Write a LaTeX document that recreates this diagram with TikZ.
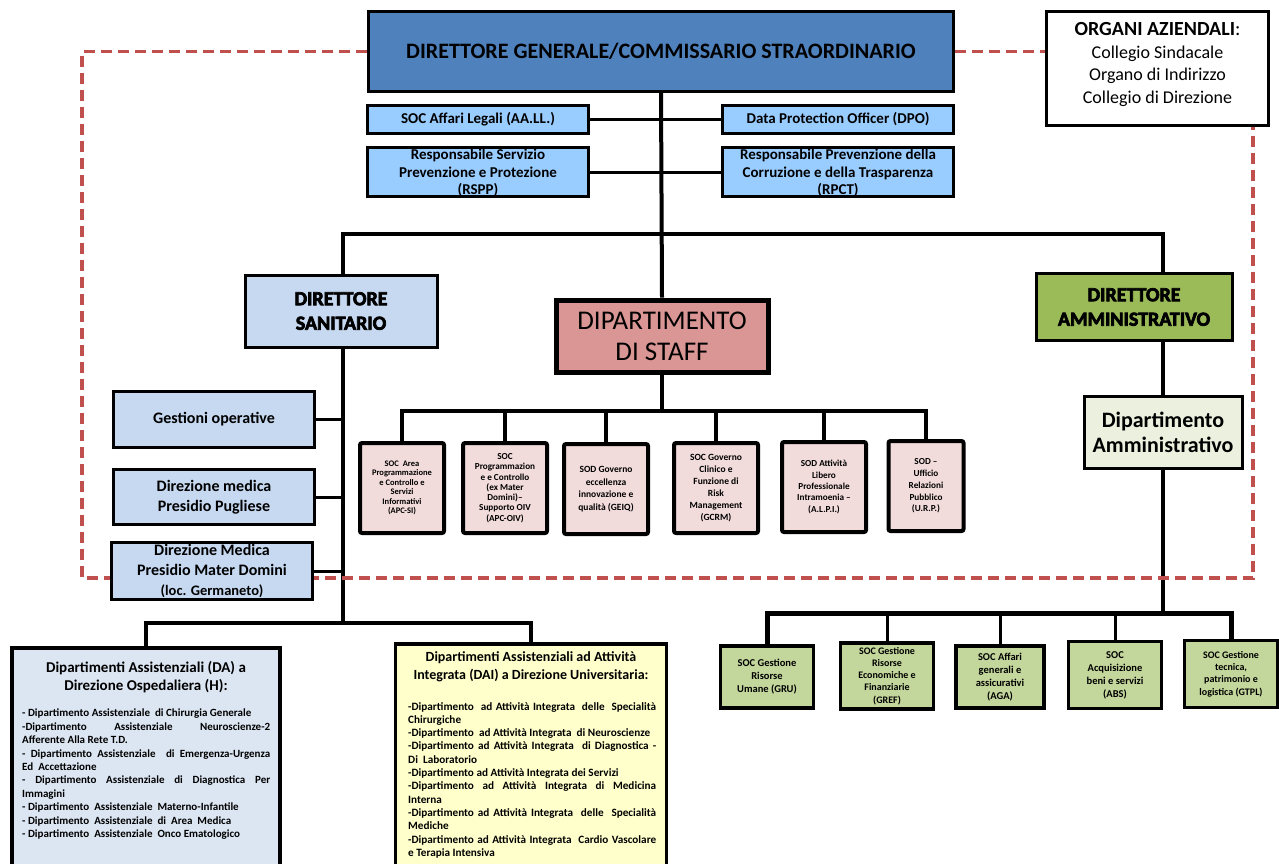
\documentclass[tikz,border=0pt]{standalone}
\usepackage{fontspec}
\setmainfont{Carlito}
\usetikzlibrary{positioning,backgrounds}

\definecolor{dgblue}{HTML}{4F81BD}
\definecolor{staffblue}{HTML}{99CCFF}
\definecolor{sanblue}{HTML}{C6D9F1}
\definecolor{dahblue}{HTML}{DCE6F2}
\definecolor{staffred}{HTML}{D99694}
\definecolor{staffpink}{HTML}{F2DCDB}
\definecolor{ammgreen}{HTML}{9BBB59}
\definecolor{ammlight}{HTML}{EBF1DE}
\definecolor{socgreen}{HTML}{C3D69B}
\definecolor{daiyellow}{HTML}{FFFFCC}
\definecolor{dashred}{HTML}{C0504D}

\newcommand{\fsz}[2]{\fontsize{#1}{#2}\selectfont}
% testo con contorno
\newcommand{\heavytxt}[1]{\special{pdf:literal direct 2 Tr 0.7 w}#1\special{pdf:literal direct 0 Tr}}

\begin{document}
\begin{tikzpicture}[x=1pt, y=-1pt,
        every node/.style={inner sep=0pt, align=center}
    ]
    \tikzstyle {frame_box} = [draw=black, line width=3pt]
    \tikzstyle {dg_box} = [frame_box, fill=dgblue, minimum width=585pt, minimum height=80pt, font=\bfseries\fsz{22}{26}]
    \tikzstyle {org_box} = [frame_box, fill=white, line width=2.5pt, minimum width=222pt, minimum height=114pt, text depth=11.5pt, font=\fsz{18}{22.5}]
    \tikzstyle {staff_box} = [frame_box, fill=staffblue, line width=2.5pt, font=\bfseries\fsz{15}{17.5}]
    \tikzstyle {dir_box} = [frame_box, font=\bfseries\fsz{20}{24.5}]
    \tikzstyle {san_box} = [frame_box, fill=sanblue, minimum width=201pt, font=\bfseries\fsz{16}{20}]
    \tikzstyle {sub_box} = [frame_box, line width=4pt, rounded corners=2pt, fill=staffpink, minimum width=84pt, minimum height=90pt, font=\bfseries\fsz{9.5}{12}]
    \tikzstyle {soc_box} = [frame_box, line width=3.5pt, fill=socgreen, minimum width=93pt, minimum height=62pt, font=\bfseries\fsz{10.5}{13}]
    \tikzstyle {big_box} = [frame_box, line width=3.5pt, anchor=north, minimum height=260pt]
    \tikzstyle {line_link} = [line width=4pt]
    \tikzstyle {red_dash} = [draw=dashred, line width=3.5pt, dash pattern=on 11pt off 6pt]

    \useasboundingbox (0,0) rectangle (1279,863);

    % vertice
    \node [dg_box] (dg) at (661,51.5) {DIRETTORE GENERALE/COMMISSARIO STRAORDINARIO};
    \node [org_box] (org) at (1157.5,68.5) {{\fsz{20}{22.5}\textbf{ORGANI AZIENDALI}:}\\Collegio Sindacale\\Organo di Indirizzo\\Collegio di Direzione};

    \node [staff_box, minimum width=221pt, minimum height=28pt] (legal) at (478,119.5) {SOC Affari Legali (AA.LL.)};
    \node [staff_box, minimum width=231pt, minimum height=28pt] (dpo) at (838,119.5) {Data Protection Officer (DPO)};
    \node [staff_box, minimum width=221pt, minimum height=49pt, text depth=0pt] (rspp) at (478,172) {Responsabile Servizio\\Prevenzione e Protezione\\(RSPP)};
    \node [staff_box, minimum width=231pt, minimum height=49pt, text depth=0pt] (rpct) at (838,172) {Responsabile Prevenzione della\\Corruzione e della Trasparenza\\(RPCT)};

    % direzioni
    \node [dir_box, fill=sanblue, minimum width=192pt, minimum height=72pt] (ds) at (341,311) {\heavytxt{DIRETTORE}\\\heavytxt{SANITARIO}};
    \node [frame_box, fill=staffred, line width=5pt, minimum width=212pt, minimum height=72pt, font=\fsz{27}{31}] (staff) at (662,336) {DIPARTIMENTO\\DI STAFF};
    \node [dir_box, fill=ammgreen, minimum width=196pt, minimum height=67pt] (da) at (1134,307) {\heavytxt{DIRETTORE}\\\heavytxt{AMMINISTRATIVO}};
    \node [frame_box, fill=ammlight, minimum width=158pt, minimum height=72pt, font=\bfseries\fsz{22}{25}] (dipamm) at (1163,432) {Dipartimento\\Amministrativo};

    \node [san_box, minimum height=56pt] (gest) at (214,419) {Gestioni operative};
    \node [san_box, minimum height=55pt] (pugl) at (214,497) {Direzione medica\\Presidio Pugliese};
    \node [san_box, minimum height=57pt] (mater) at (212,571) {Direzione Medica\\Presidio Mater Domini\\{\fsz{14.5}{17}(loc. Germaneto)}};

    % staff
    \node [sub_box, font=\bfseries\fsz{8.5}{9.5}] (s1) at (402,488) {SOC\ \ Area\\Programmazione\\e Controllo e\\Servizi\\Informativi\\(APC-SI)};
    \node [sub_box, font=\bfseries\fsz{9.2}{10.3}] (s2) at (505,488) {SOC\\Programmazion\\e e Controllo\\(ex Mater\\Domini)–\\Supporto OIV\\(APC-OIV)};
    \node [sub_box, font=\bfseries\fsz{9.5}{12.5}] (s3) at (606,489) {SOD Governo\\eccellenza\\innovazione e\\qualità (GEIQ)};
    \node [sub_box] (s4) at (716,488) {SOC Governo\\Clinico e\\Funzione di\\Risk\\Management\\(GCRM)};
    \node [sub_box, font=\bfseries\fsz{9.2}{11.3}] (s5) at (824,487) {SOD Attività\\Libero\\Professionale\\Intramoenia –\\(A.L.P.I.)};
    \node [sub_box, minimum width=75pt, font=\bfseries\fsz{9.2}{11.8}] (s6) at (926,486) {SOD –\\Ufficio\\Relazioni\\Pubblico\\(U.R.P.)};

    % amministrativo
    \node [soc_box] (gru) at (767,677) {SOC Gestione\\Risorse\\Umane (GRU)};
    \node [soc_box, minimum height=66pt, font=\bfseries\fsz{10}{12.2}] (gref) at (887,676) {SOC Gestione\\Risorse\\Economiche e\\Finanziarie\\(GREF)};
    \node [soc_box, minimum width=88pt] (aga) at (1000,677) {SOC Affari\\generali e\\assicurativi\\(AGA)};
    \node [soc_box, minimum height=67pt] (acq) at (1115,675) {SOC\\Acquisizione\\beni e servizi\\(ABS)};
    \node [soc_box, minimum height=67pt, font=\bfseries\fsz{10}{12.4}] (gtpl) at (1231,674) {SOC Gestione\\tecnica,\\patrimonio e\\logistica (GTPL)};

    % dipartimenti assistenziali
    \node [big_box, fill=dahblue, minimum width=268pt] (dah) at (146,646) {};
    \node [anchor=north, font=\bfseries\fsz{15}{18}] (dah_title) at (146,661) {Dipartimenti Assistenziali (DA) a\\Direzione Ospedaliera (H):};
    \node [anchor=north west, text width=248pt, align=justify, font=\bfseries\fsz{11}{13.4}] (dah_list) at (22,709) {%
        - Dipartimento Assistenziale\ \ di Chirurgia Generale\par
        -Dipartimento Assistenziale Neuroscienze-2\linebreak Afferente Alla Rete T.D.\par
        - Dipartimento Assistenziale\ \ di Emergenza-Urgenza\linebreak Ed\ \ Accettazione\par
        - Dipartimento Assistenziale di Diagnostica Per\linebreak Immagini\par
        - Dipartimento\ \ Assistenziale\ \ Materno-Infantile\par
        - Dipartimento\ \ Assistenziale\ \ di\ \ Area\ \ Medica\par
        - Dipartimento\ \ Assistenziale\ \ Onco Ematologico};

    \node [big_box, fill=daiyellow, minimum width=271pt] (dai) at (531,642) {};
    \node [anchor=north, font=\bfseries\fsz{14}{18}] (dai_title) at (531,651) {Dipartimenti Assistenziali ad Attività\\Integrata (DAI) a Direzione Universitaria:};
    \node [anchor=north west, text width=248pt, align=justify, font=\bfseries\fsz{11.2}{13.3}] (dai_list) at (408,702) {%
        -Dipartimento\ \ ad Attività Integrata\ \ delle\ \ Specialità\linebreak Chirurgiche\par
        -Dipartimento\ \ ad Attività Integrata\ \ di Neuroscienze\par
        -Dipartimento ad Attività Integrata\ \ di Diagnostica -\linebreak Di\ \ Laboratorio\par
        -Dipartimento ad Attività Integrata dei Servizi\par
        -Dipartimento ad Attività Integrata di Medicina\linebreak Interna\par
        -Dipartimento ad Attività Integrata\ \ delle\ \ Specialità\linebreak Mediche\par
        -Dipartimento ad Attività Integrata\ \ Cardio Vascolare\linebreak e Terapia Intensiva};

    \begin{scope}[on background layer]
        \coordinate (bar_l) at (343,234);
        \coordinate (bar_r) at (1163,234);
        \coordinate (low_l) at (343,623);
        \coordinate (sbar) at (662,411);
        \coordinate (gbar) at (1163,613);
        \coordinate (dash_bl) at (82,578);
        \coordinate (dash_br) at (1253,578);

        \draw [line_link] (dg.south) -- (staff.north);
        \draw [line_link, line width=3pt] (legal.east) -- (dpo.west);
        \draw [line_link, line width=3pt] (rspp.east) -- (rpct.west);
        \draw [line_link] (bar_l |- ds.north) -- (bar_l) -- (bar_r) -- (bar_r |- da.north);
        \draw [line_link] (bar_l |- ds.south) -- (low_l);
        \draw [line_link, line width=3pt] (gest.east) -- (gest.east -| bar_l);
        \draw [line_link, line width=3pt] (pugl.east) -- (pugl.east -| bar_l);
        \draw [line_link, line width=3pt] (mater.east) -- (mater.east -| bar_l);
        \draw [line_link] (dah.north) |- (low_l) -| (dai.north);

        \draw [line_link] (staff.south) -- (sbar);
        \draw [line_link] (s1.north) |- (sbar) -| (s6.north);
        \foreach \n in {2,...,5}
            \draw [line_link] (s\n.north) -- (s\n.north |- sbar);

        \draw [line_link] (bar_r |- da.south) -- (dipamm.north);
        \draw [line_link] (dipamm.south) -- (gbar);
        \draw [line_link, line width=5pt] (gru.north) |- (gbar) -| (gtpl.north);
        \foreach \n in {gref,aga,acq}
            \draw [line_link, line width=3pt] (\n.north) -- (\n.north |- gbar);

        % organi aziendali
        \draw [red_dash] (dg.west) -| (dash_bl) -- (dash_br) -- (dash_br |- org.south);
        \draw [red_dash] (dg.east) -- (dg.east -| org.west);
    \end{scope}
\end{tikzpicture}
\end{document}
